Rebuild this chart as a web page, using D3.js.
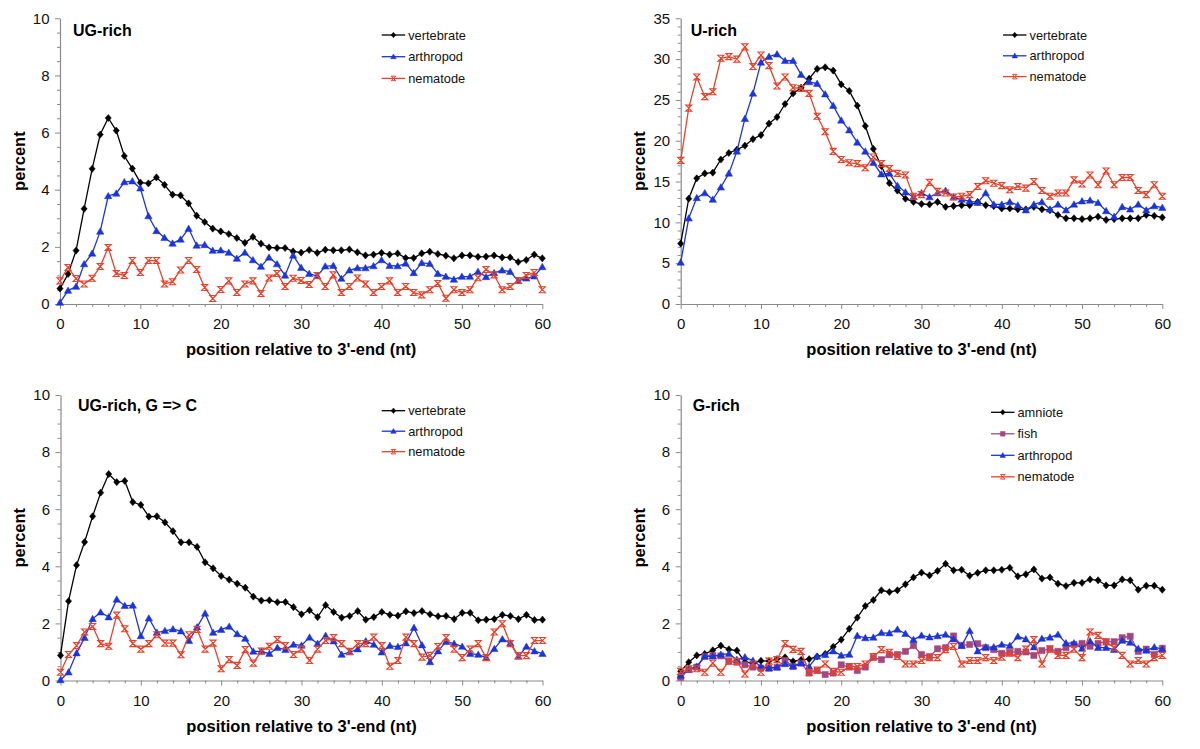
<!DOCTYPE html>
<html>
<head>
<meta charset="utf-8">
<script src="https://cdn.jsdelivr.net/npm/d3@7"></script>
<style>
  html, body { margin: 0; padding: 0; background: #fff; }
  svg { display: block; font-family: Arial, "Liberation Sans", sans-serif; }
</style>
</head>
<body>
<svg id="chart" width="1200" height="749"></svg>
<script>
// ---------------- data ----------------
const positions = d3.range(0, 61);
const xTickLabels = [0, 10, 20, 30, 40, 50, 60];

// Panel A: UG-rich
const ugVertebrate = [0.54,1.05,1.87,3.33,4.73,5.93,6.51,6.07,5.18,4.74, 4.25,4.22,4.43,4.17,3.83,3.80,3.52,3.09,2.87,2.64, 2.54,2.45,2.31,2.14,2.35,2.11,1.98,1.96,1.96,1.84, 1.80,1.89,1.79,1.90,1.88,1.88,1.91,1.81,1.70,1.73, 1.79,1.73,1.77,1.61,1.61,1.77,1.83,1.75,1.69,1.60, 1.70,1.70,1.65,1.66,1.70,1.63,1.63,1.47,1.54,1.73,1.60];
const ugArthropod = [0.05,0.47,0.61,1.40,1.77,2.54,3.78,3.87,4.27,4.30, 4.05,3.08,2.56,2.32,2.12,2.26,2.64,2.05,2.07,1.87, 1.88,1.80,1.59,1.80,1.54,1.31,1.63,1.40,1.00,1.70, 1.27,1.06,0.98,1.32,1.34,0.89,1.18,1.26,1.26,1.33, 1.54,1.34,1.33,1.42,1.09,1.44,1.41,1.06,0.96,0.86, 0.96,0.96,1.13,0.95,1.09,1.18,1.13,0.81,0.90,0.97,1.30];
const ugNematode = [0.81,1.28,0.89,0.70,0.90,1.31,1.98,1.07,1.00,1.52, 1.10,1.52,1.52,0.70,0.78,1.19,1.52,1.21,0.58,0.19, 0.51,0.81,0.40,0.70,0.81,0.37,0.91,1.07,0.61,0.90, 0.82,0.68,1.00,0.61,1.02,0.40,0.61,0.91,0.70,0.40, 0.61,0.81,0.40,0.61,0.40,0.32,0.50,0.72,0.20,0.50, 0.40,0.50,0.92,1.21,1.02,0.50,0.61,0.82,1.00,1.10,0.50];

// Panel B: U-rich
const uVertebrate = [7.4,12.9,15.4,16.0,16.1,17.7,18.5,18.9,19.4,20.2, 20.7,22.1,22.9,24.5,25.8,26.5,27.6,28.8,29.0,28.6, 26.9,26.1,24.3,21.8,19.0,16.9,14.8,13.9,12.9,12.5, 12.25,12.2,12.5,11.9,12.0,12.1,12.1,12.5,12.1,12.0, 11.7,11.7,11.6,11.6,11.9,11.6,11.5,10.9,10.5,10.5, 10.4,10.5,10.7,10.3,10.4,10.5,10.5,10.5,10.9,10.8,10.6];
const uArthropod = [5.1,10.5,13.0,13.6,12.8,14.3,16.0,18.7,22.7,25.8, 29.6,30.3,30.6,29.8,29.8,28.1,27.2,27.0,25.7,24.3, 22.5,21.3,19.8,18.7,17.3,15.9,16.0,14.5,13.7,13.1, 13.6,13.1,13.6,13.9,13.1,12.8,12.6,12.4,13.6,12.2, 12.2,12.5,12.1,11.5,12.2,12.5,11.6,12.2,11.5,12.2, 12.6,12.7,12.4,11.4,10.7,11.9,11.6,12.2,11.5,12.0,11.8];
const uNematode = [17.6,24.0,27.8,25.4,26.0,30.1,30.3,30.0,31.5,29.1, 30.5,29.2,26.7,27.8,26.5,26.4,25.8,23.0,21.1,18.7, 17.7,17.3,17.2,16.7,18.0,17.2,16.6,16.0,15.8,13.2, 13.4,14.9,13.8,13.6,13.1,13.2,13.4,14.4,15.1,14.8, 14.5,14.0,14.4,14.2,15.0,13.9,13.2,13.6,13.6,15.2, 14.7,15.8,14.6,16.3,14.6,15.5,15.5,13.9,13.4,14.6,13.2];

// Panel C: UG-rich, G => C
const gcVertebrate = [0.88,2.78,4.04,4.85,5.75,6.58,7.23,6.95,6.99,6.25, 6.15,5.74,5.75,5.54,5.23,4.84,4.84,4.68,4.14,3.93, 3.66,3.53,3.39,3.25,2.94,2.80,2.81,2.74,2.75,2.57, 2.32,2.46,2.22,2.64,2.40,2.20,2.26,2.43,2.13,2.22, 2.40,2.30,2.27,2.42,2.36,2.43,2.32,2.25,2.26,2.15, 2.37,2.37,2.11,2.13,2.15,2.30,2.26,2.15,2.30,2.12,2.13];
const gcArthropod = [0.02,0.29,0.96,1.50,2.16,2.39,2.22,2.84,2.62,2.63, 1.56,2.18,1.68,1.74,1.80,1.73,1.39,1.87,2.35,1.68, 1.78,1.89,1.63,1.47,1.02,1.02,0.94,1.15,1.08,1.26, 1.23,1.51,1.29,1.57,1.38,0.91,0.99,1.10,1.38,1.26, 0.99,1.22,1.18,1.31,1.85,1.24,0.65,1.03,1.36,1.29, 1.19,0.94,0.91,0.80,1.11,1.45,1.31,0.84,1.19,1.03,0.94];
const gcNematode = [0.29,0.91,1.22,1.70,1.89,1.29,1.20,2.29,1.81,1.29, 1.10,1.29,1.60,1.31,1.31,0.90,1.60,1.79,1.10,1.31, 0.41,0.73,0.53,1.08,0.61,1.03,1.20,1.43,1.22,0.91, 1.10,0.70,1.10,1.40,1.50,1.29,1.02,1.29,1.29,1.52, 1.22,0.50,0.70,1.52,1.29,0.82,0.88,1.19,1.50,1.10, 0.80,1.10,1.29,0.80,1.70,1.99,1.29,0.87,0.87,1.40,1.40];

// Panel D: G-rich
const gAmniote = [0.32,0.64,0.88,0.93,1.06,1.22,1.09,1.05,0.65,0.61, 0.69,0.68,0.75,0.81,0.67,0.72,0.75,0.84,0.93,1.18, 1.43,1.81,2.20,2.61,2.82,3.16,3.10,3.16,3.37,3.61, 3.78,3.68,3.84,4.09,3.86,3.88,3.67,3.77,3.86,3.86, 3.88,3.95,3.65,3.72,3.89,3.57,3.61,3.39,3.31,3.42, 3.42,3.54,3.51,3.33,3.33,3.54,3.51,3.18,3.32,3.32,3.18];
const gFish = [0.11,0.38,0.47,0.84,0.88,0.86,0.68,0.64,0.55,0.47, 0.43,0.43,0.46,0.70,0.49,0.61,0.26,0.35,0.21,0.26, 0.55,0.47,0.35,0.47,0.80,0.73,0.90,0.91,1.02,1.22, 0.91,0.84,1.11,1.15,1.56,1.23,1.26,1.29,1.15,1.08, 0.95,0.98,1.02,1.00,0.88,1.05,1.11,1.02,1.15,1.26, 1.30,1.20,1.30,1.36,1.36,1.50,1.55,1.02,1.10,0.91,1.13];
const gArthropod = [0.18,0.39,0.49,0.85,0.85,0.91,0.94,0.73,0.82,0.70, 0.49,0.43,0.47,0.58,0.50,0.61,0.49,0.84,0.90,1.03, 0.88,0.91,1.57,1.49,1.51,1.67,1.66,1.79,1.64,1.43, 1.58,1.52,1.56,1.61,1.45,1.22,1.74,1.03,1.17,1.17, 1.26,1.22,1.54,1.45,1.17,1.47,1.51,1.61,1.31,1.31, 1.12,1.38,1.15,1.15,1.08,1.40,1.33,1.12,1.05,1.17,1.10];
const gNematode = [0.32,0.41,0.41,0.29,0.61,0.29,0.68,0.67,0.23,0.58, 0.29,0.68,0.73,1.29,1.09,1.02,0.29,0.37,0.58,0.32, 0.29,0.49,0.49,0.58,0.84,1.08,0.99,0.84,0.58,0.58, 0.70,0.80,0.80,1.08,1.19,0.58,0.70,0.70,0.80,0.70, 0.82,0.96,0.80,1.10,1.43,0.58,1.10,0.88,0.88,1.10, 0.80,1.70,1.58,1.35,1.15,0.88,0.58,0.70,0.58,0.80,0.88];

const yTicks10 = [0, 2, 4, 6, 8, 10];
const yTicks35 = [0, 5, 10, 15, 20, 25, 30, 35];

// ---------------- styles ----------------
const COLORS = { black: "#000000", blue: "#1b35d9", red: "#e8422a", fish: "#a3477f" };

const markers = {
  diamond: s => `M0,${-3.6*s}L${3.1*s},0L0,${3.6*s}L${-3.1*s},0Z`,
  triangle: s => `M0,${-3.6*s}L${3.7*s},${2.8*s}L${-3.7*s},${2.8*s}Z`,
  square: s => `M${-3.1*s},${-3.1*s}h${6.2*s}v${6.2*s}h${-6.2*s}Z`,
  star: s => `M${-3*s},${-3*s}L${3*s},${-3*s}L${-3*s},${3*s}L${3*s},${3*s}Z`
};

const panels = [
  { title: "UG-rich", ymax: 10, yTicks: yTicks10, yMinor: 0.5,
    x0: 60, x1: 542.3, yb: 304, yt: 18.3, ylabX: 19, titleX: 73, titleY: 35.5,
    legX: 381.7, legY: 35, legDy: 21.7,
    series: [
      { name: "vertebrate", values: ugVertebrate, color: COLORS.black, marker: "diamond" },
      { name: "arthropod", values: ugArthropod, color: COLORS.blue, marker: "triangle" },
      { name: "nematode", values: ugNematode, color: COLORS.red, marker: "star" } ] },
  { title: "U-rich", ymax: 35, yTicks: yTicks35, yMinor: 1,
    x0: 680.7, x1: 1162.3, yb: 304, yt: 18.3, ylabX: 639, titleX: 690.7, titleY: 35.5,
    legX: 1003, legY: 35, legDy: 20.8,
    series: [
      { name: "vertebrate", values: uVertebrate, color: COLORS.black, marker: "diamond" },
      { name: "arthropod", values: uArthropod, color: COLORS.blue, marker: "triangle" },
      { name: "nematode", values: uNematode, color: COLORS.red, marker: "star" } ] },
  { title: "UG-rich, G => C", ymax: 10, yTicks: yTicks10, yMinor: 0.5,
    x0: 60.5, x1: 542.5, yb: 680.5, yt: 395, ylabX: 19, titleX: 78, titleY: 410.5,
    legX: 381.7, legY: 410.7, legDy: 20.5,
    series: [
      { name: "vertebrate", values: gcVertebrate, color: COLORS.black, marker: "diamond" },
      { name: "arthropod", values: gcArthropod, color: COLORS.blue, marker: "triangle" },
      { name: "nematode", values: gcNematode, color: COLORS.red, marker: "star" } ] },
  { title: "G-rich", ymax: 10, yTicks: yTicks10, yMinor: 0.5,
    x0: 680.7, x1: 1162.3, yb: 680.5, yt: 395, ylabX: 639, titleX: 692.7, titleY: 410.5,
    legX: 991, legY: 412.3, legDy: 21.5,
    series: [
      { name: "amniote", values: gAmniote, color: COLORS.black, marker: "diamond" },
      { name: "fish", values: gFish, color: COLORS.fish, marker: "square" },
      { name: "arthropod", values: gArthropod, color: COLORS.blue, marker: "triangle" },
      { name: "nematode", values: gNematode, color: COLORS.red, marker: "star" } ] }
];

const svg = d3.select("#chart");
const AXIS_COLOR = "#8a8a8a";

panels.forEach(p => {
  const x = d3.scaleLinear().domain([0, 60]).range([p.x0, p.x1]);
  const y = d3.scaleLinear().domain([0, p.ymax]).range([p.yb, p.yt]);
  const g = svg.append("g");

  // minor ticks
  const yMinorVals = d3.range(0, p.ymax + 1e-9, p.yMinor).filter(v => !p.yTicks.some(t => Math.abs(t - v) < 1e-9));
  g.append("g").attr("transform", `translate(${p.x0},0)`)
    .call(d3.axisLeft(y).tickValues(yMinorVals).tickSize(3).tickFormat("").tickSizeOuter(0))
    .call(a => a.select(".domain").remove())
    .call(a => a.selectAll("line").attr("stroke", AXIS_COLOR));
  const xMinorVals = d3.range(0, 61, 2).filter(v => v % 10 !== 0);
  g.append("g").attr("transform", `translate(0,${p.yb})`)
    .call(d3.axisBottom(x).tickValues(xMinorVals).tickSize(3).tickFormat("").tickSizeOuter(0))
    .call(a => a.select(".domain").remove())
    .call(a => a.selectAll("line").attr("stroke", AXIS_COLOR));

  // major axes
  const yAx = g.append("g").attr("transform", `translate(${p.x0},0)`)
    .call(d3.axisLeft(y).tickValues(p.yTicks).tickSize(5).tickPadding(5.5).tickSizeOuter(0));
  const xAx = g.append("g").attr("transform", `translate(0,${p.yb})`)
    .call(d3.axisBottom(x).tickValues(xTickLabels).tickSize(5).tickPadding(9.5).tickSizeOuter(0));
  [yAx, xAx].forEach(a => {
    a.select(".domain").attr("stroke", AXIS_COLOR).attr("stroke-width", 1.2);
    a.selectAll("line").attr("stroke", AXIS_COLOR);
    a.selectAll("text").attr("fill", "#111").style("font-size", "15px")
      .style("font-family", "Arial, 'Liberation Sans', sans-serif");
  });

  // axis labels
  g.append("text")
    .attr("transform", `translate(${p.ylabX},${(p.yb + p.yt) / 2}) rotate(-90)`)
    .attr("text-anchor", "middle").attr("dominant-baseline", "central")
    .style("font-size", "16.5px").style("font-weight", "bold").text("percent");
  g.append("text")
    .attr("x", (p.x0 + p.x1) / 2).attr("y", p.yb + 51)
    .attr("text-anchor", "middle")
    .style("font-size", "16.5px").style("font-weight", "bold")
    .text("position relative to 3'-end (nt)");

  // title
  g.append("text").attr("x", p.titleX).attr("y", p.titleY)
    .style("font-size", "16px").style("font-weight", "bold").text(p.title);

  // series
  const line = d3.line().x((d, i) => x(positions[i])).y(d => y(d));
  p.series.forEach(s => {
    const sg = g.append("g");
    sg.append("path").datum(s.values).attr("d", line)
      .attr("fill", "none").attr("stroke", s.color).attr("stroke-width", 1.3);
    sg.selectAll("path.m").data(s.values).enter().append("path").attr("class", "m")
      .attr("transform", (d, i) => `translate(${x(positions[i])},${y(d)})`)
      .attr("d", markers[s.marker](1))
      .attr("fill", s.marker === "star" ? "none" : s.color)
      .attr("stroke", s.color)
      .attr("stroke-width", s.marker === "star" ? 1.1 : 0.5);
  });

  // legend
  p.series.forEach((s, i) => {
    const ly = p.legY + i * p.legDy;
    const lg = g.append("g").attr("transform", `translate(${p.legX},${ly})`);
    lg.append("line").attr("x1", 0).attr("x2", 23.5).attr("y1", 0).attr("y2", 0)
      .attr("stroke", s.color).attr("stroke-width", 1.3);
    lg.append("path").attr("transform", "translate(11.75,0)")
      .attr("d", markers[s.marker](0.75))
      .attr("fill", s.marker === "star" ? "none" : s.color)
      .attr("stroke", s.color).attr("stroke-width", s.marker === "star" ? 1 : 0.5);
    lg.append("text").attr("x", 26.5).attr("y", 0).attr("dominant-baseline", "central")
      .style("font-size", "12.8px").attr("fill", "#111").text(s.name);
  });
});
</script>
</body>
</html>
